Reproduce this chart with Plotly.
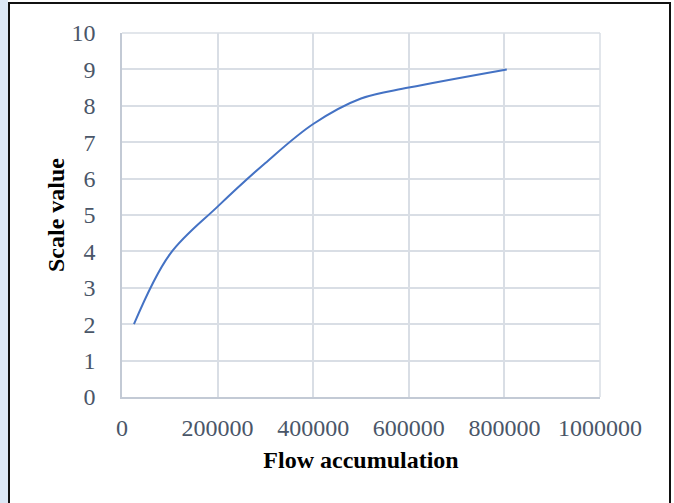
import plotly.graph_objects as go

flow = [25000, 100000, 200000, 300000, 400000, 500000, 600000, 805000]
scale = [2.0, 3.92, 5.23, 6.43, 7.5, 8.2, 8.5, 9.0]

W, H = 674, 503
L, R, T, B = 122, 74, 33, 106
pw, ph = W - L - R, H - T - B

def px(x):
    return (x - L) / pw

def py(y):
    return (H - B - y) / ph

fig = go.Figure()
fig.add_trace(go.Scatter(x=flow, y=scale, mode="lines",
                         line=dict(color="#4472c4", width=2, shape="spline", smoothing=1),
                         showlegend=False, hoverinfo="skip"))

tickfont = dict(family="Liberation Serif, Times New Roman, serif", size=24, color="#4a5668")
titlefont = dict(family="Liberation Serif, Times New Roman, serif", size=24, color="#000000")

fig.update_layout(
    width=W, height=H,
    margin=dict(l=L, r=R, t=T, b=B),
    paper_bgcolor="white", plot_bgcolor="white",
    xaxis=dict(range=[0, 1000000], tickvals=[0, 200000, 400000, 600000, 800000, 1000000],
               ticktext=["0", "200000", "400000", "600000", "800000", "1000000"],
               showgrid=True, gridcolor="#d9dee5", gridwidth=1.5,
               showline=True, linecolor="#c3cad5", linewidth=1.5, mirror=False,
               zeroline=False, ticks="", tickfont=tickfont, ticklabelstandoff=8,
               title=dict(text="<b>Flow accumulation</b>", font=titlefont, standoff=12),
               fixedrange=True),
    yaxis=dict(range=[0, 10], tickvals=list(range(0, 11)),
               showgrid=True, gridcolor="#d9dee5", gridwidth=1.5,
               showline=True, linecolor="#c3cad5", linewidth=1.5,
               zeroline=False, ticks="", tickfont=tickfont, ticklabelstandoff=20,
               title=dict(text="<b>Scale value</b>", font=titlefont, standoff=0),
               fixedrange=True),
)

# right and top edges of plot area are gridlines
fig.add_shape(type="line", xref="paper", yref="paper", x0=0, x1=1, y0=1, y1=1,
              line=dict(color="#d9dee5", width=1.5))
fig.add_shape(type="line", xref="paper", yref="paper", x0=1, x1=1, y0=0, y1=1,
              line=dict(color="#d9dee5", width=1.5))

# light blue strip on the far left
fig.add_shape(type="rect", xref="paper", yref="paper", x0=px(0), x1=px(8), y0=py(H + 2), y1=py(-2),
              fillcolor="#dce8f6", line=dict(width=0), layer="below")
# outer black frame
fig.add_shape(type="rect", xref="paper", yref="paper", x0=px(9), x1=px(670), y0=py(H + 5), y1=py(3),
              line=dict(color="#111111", width=2), fillcolor="rgba(0,0,0,0)")

fig.write_html("out.html")
